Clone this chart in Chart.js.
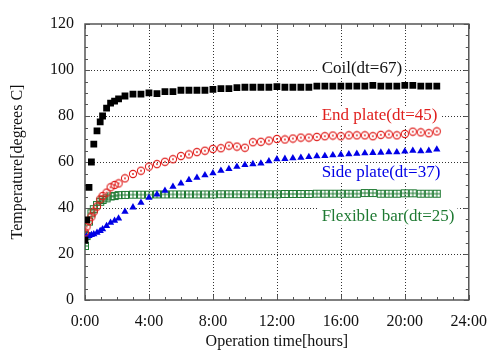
<!DOCTYPE html>
<html>
<head>
<meta charset="utf-8">
<script src="https://cdn.jsdelivr.net/npm/chart.js@4/dist/chart.umd.min.js"></script>
<style>
  html, body { margin: 0; padding: 0; background: #fff; }
  #wrap { width: 491px; height: 350px; }
</style>
</head>
<body>
<div id="wrap"><canvas id="graphCanvas" width="491" height="350"></canvas></div>
<script>
// Data
const timeHours = [0, 0.1, 0.25, 0.4, 0.55, 0.75, 0.95, 1.1, 1.35, 1.6, 1.85, 2.1,
    2.5, 3, 3.5, 4, 4.5, 5, 5.5, 6, 6.5, 7, 7.5, 8, 8.5, 9, 9.5, 10, 10.5, 11, 11.5, 12,
    12.5, 13, 13.5, 14, 14.5, 15, 15.5, 16, 16.5, 17, 17.5, 18, 18.5, 19, 19.5, 20, 20.5, 21, 21.5, 22];

const coilTemp = [26, 34.8, 49, 60, 67.8, 73.5, 77.4, 80, 83.4, 85.6, 86.5, 87.4,
    88.7, 89.5, 89.5, 90.1, 89.7, 90.6, 90.6, 91.2, 91.2, 91.2, 91.2, 91.6, 91.9, 91.9, 92.3, 92.5, 92.5, 92.5, 92.5, 92.8,
    92.5, 92.5, 92.5, 92.5, 93, 93, 93, 93, 93, 93, 93, 93.3, 93, 93, 93, 93.3, 93.3, 93, 93, 93];

const endPlateTemp = [29.4, 31.9, 34.3, 36.2, 38.4, 40.6, 43.8, 45.2, 46.7, 49, 50, 50.7,
    52.9, 54.8, 56.2, 58, 59.1, 60.1, 61.2, 62.6, 63.3, 64.3, 64.9, 65.7, 66, 67.1, 66.7, 66.2, 68.6, 68.8, 69.3, 70,
    69.8, 70.2, 70.6, 70.6, 70.9, 71.2, 71.5, 71.2, 71.6, 71.6, 71.6, 71.2, 71.8, 72, 71.6, 72.2, 73.2, 72.9, 72.5, 73.3];

const sidePlateTemp = [27.3, 27.6, 27.9, 28.3, 28.6, 29.3, 30, 30.8, 32.2, 33.6, 34.5, 35.5,
    38.4, 40.3, 42.3, 44.5, 45.9, 47.5, 49.3, 50.7, 52.2, 53.2, 54.3, 55.1, 56.2, 57, 58, 58.7, 59.1, 59.4, 60.4, 61.2,
    61.4, 61.7, 61.9, 62.2, 62.5, 62.6, 63, 63.2, 63.4, 63.6, 63.8, 64, 64.1, 64.3, 64.3, 64.6, 64.9, 64.7, 64.9, 65.5];

const flexBarTemp = [23.5, 27.8, 34.1, 37.7, 39.5, 41.3, 42.7, 43.5, 44.2, 45, 45.2, 45.6,
    45.7, 45.8, 45.8, 45.8, 45.9, 45.9, 45.9, 45.9, 45.9, 45.9, 45.9, 45.9, 46, 46, 46, 46, 46, 46, 46, 46,
    46.1, 46.1, 46.1, 46.1, 46.2, 46.2, 46.2, 46.2, 46.2, 46.2, 46.5, 46.5, 46.2, 46.2, 46.2, 46.4, 46.4, 46.2, 46.2, 46.2];

const seriesNames = ['Coil(dt=67)', 'End plate(dt=45)', 'Side plate(dt=37)', 'Flexible bar(dt=25)'];
const xTickLabels = ['0:00', '4:00', '8:00', '12:00', '16:00', '20:00', '24:00'];
const yTicks = [0, 20, 40, 60, 80, 100, 120];

const RED = '#e0201e';
const BLUE = '#0000e6';
const GREEN = '#1f7a33';
const SERIF = '"Liberation Serif", "Times New Roman", serif';

function pts(values) {
    return values.map((v, i) => ({ x: timeHours[i], y: v }));
}

// circle with a dot in the middle
function ringDot() {
    const c = document.createElement('canvas');
    c.width = 10; c.height = 10;
    const g = c.getContext('2d');
    g.strokeStyle = RED; g.lineWidth = 1.1;
    g.beginPath(); g.arc(5, 5, 3.6, 0, Math.PI * 2); g.stroke();
    g.fillStyle = RED;
    g.beginPath(); g.arc(5, 5, 0.9, 0, Math.PI * 2); g.fill();
    return c;
}

// square with a cross inside
function boxPlus() {
    const c = document.createElement('canvas');
    c.width = 10; c.height = 10;
    const g = c.getContext('2d');
    g.strokeStyle = GREEN; g.lineWidth = 1;
    g.strokeRect(1.5, 1.5, 7, 7);
    g.beginPath();
    g.moveTo(5, 1.5); g.lineTo(5, 8.5);
    g.moveTo(1.5, 5); g.lineTo(8.5, 5);
    g.stroke();
    return c;
}

// dotted grid, frame and inward ticks on all four sides
const framePlugin = {
    id: 'frame',
    beforeDatasetsDraw(chart) {
        const { ctx, chartArea: a, scales: { x, y } } = chart;
        ctx.save();
        ctx.strokeStyle = '#333';
        ctx.lineWidth = 1;
        ctx.setLineDash([1, 2]);
        ctx.beginPath();
        for (let h = 4; h < 24; h += 4) {
            const px = Math.round(x.getPixelForValue(h)) + 0.5;
            ctx.moveTo(px, a.top); ctx.lineTo(px, a.bottom);
        }
        yTicks.slice(1, -1).forEach(v => {
            const py = Math.round(y.getPixelForValue(v)) + 0.5;
            ctx.moveTo(a.left, py); ctx.lineTo(a.right, py);
        });
        ctx.stroke();
        ctx.setLineDash([]);
        ctx.strokeStyle = '#555';
        ctx.beginPath();
        for (let h = 0; h <= 24; h++) {
            const px = Math.round(x.getPixelForValue(h)) + 0.5;
            const len = h % 4 === 0 ? 5 : 3;
            ctx.moveTo(px, a.bottom); ctx.lineTo(px, a.bottom - len);
            ctx.moveTo(px, a.top); ctx.lineTo(px, a.top + len);
        }
        for (let v = 0; v <= 120; v += 5) {
            const py = Math.round(y.getPixelForValue(v)) + 0.5;
            const len = v % 20 === 0 ? 5 : 3;
            ctx.moveTo(a.left, py); ctx.lineTo(a.left + len, py);
            ctx.moveTo(a.right, py); ctx.lineTo(a.right - len, py);
        }
        ctx.stroke();
        ctx.lineWidth = 1.5;
        ctx.strokeRect(a.left, a.top, a.right - a.left, a.bottom - a.top);
        ctx.restore();
    }
};

// series names written inside the plot, on white
const labelPlugin = {
    id: 'seriesLabels',
    beforeDatasetsDraw(chart) {
        const { ctx, scales: { x, y } } = chart;
        const anchors = [100.8, 80.4, 55.6, 36.2];
        ctx.save();
        ctx.font = '17px ' + SERIF;
        ctx.textBaseline = 'middle';
        ctx.textAlign = 'left';
        chart.data.datasets.forEach((ds, i) => {
            const px = x.getPixelForValue(14.8);
            const py = y.getPixelForValue(anchors[i]);
            const w = ctx.measureText(ds.label).width;
            ctx.fillStyle = '#fff';
            ctx.fillRect(px - 3, py - 9, w + 6, 18);
            ctx.fillStyle = ds.textColor;
            ctx.fillText(ds.label, px, py);
        });
        ctx.restore();
    }
};

const ctx = document.getElementById('graphCanvas').getContext('2d');

new Chart(ctx, {
    type: 'scatter',
    data: {
        datasets: [{
            label: seriesNames[0],
            data: pts(coilTemp),
            pointStyle: 'rect',
            pointRadius: 4.8,
            backgroundColor: '#000',
            borderColor: '#000',
            borderWidth: 0,
            textColor: '#111'
        }, {
            label: seriesNames[1],
            data: pts(endPlateTemp),
            pointStyle: ringDot(),
            textColor: RED
        }, {
            label: seriesNames[2],
            data: pts(sidePlateTemp),
            pointStyle: 'triangle',
            pointRadius: 4.2,
            backgroundColor: BLUE,
            borderColor: BLUE,
            borderWidth: 0,
            textColor: BLUE
        }, {
            label: seriesNames[3],
            data: pts(flexBarTemp),
            pointStyle: boxPlus(),
            textColor: GREEN
        }]
    },
    options: {
        responsive: false,
        animation: false,
        layout: { padding: { top: 24, right: 22, left: 0, bottom: 0 } },
        plugins: {
            legend: { display: false },
            tooltip: { enabled: false }
        },
        scales: {
            x: {
                type: 'linear',
                min: 0,
                max: 24,
                grid: { display: false },
                border: { display: false },
                afterFit: s => { s.height = 50; },
                ticks: {
                    stepSize: 4,
                    padding: 4,
                    color: '#111',
                    font: { family: SERIF, size: 16 },
                    callback: v => xTickLabels[v / 4]
                },
                title: {
                    display: true,
                    text: 'Operation time[hours]',
                    color: '#111',
                    font: { family: SERIF, size: 16, lineHeight: 1 },
                    padding: { top: 0, bottom: 0 }
                }
            },
            y: {
                min: 0,
                max: 120,
                grid: { display: false, drawTicks: false },
                border: { display: false },
                afterFit: s => { s.width = 85; },
                ticks: {
                    stepSize: 20,
                    padding: 11,
                    color: '#111',
                    font: { family: SERIF, size: 16 }
                },
                title: {
                    display: true,
                    text: 'Temperature[degrees C]',
                    color: '#111',
                    font: { family: SERIF, size: 16 },
                    padding: { top: 8, bottom: 0 }
                }
            }
        }
    },
    plugins: [framePlugin, labelPlugin]
});
</script>
</body>
</html>
